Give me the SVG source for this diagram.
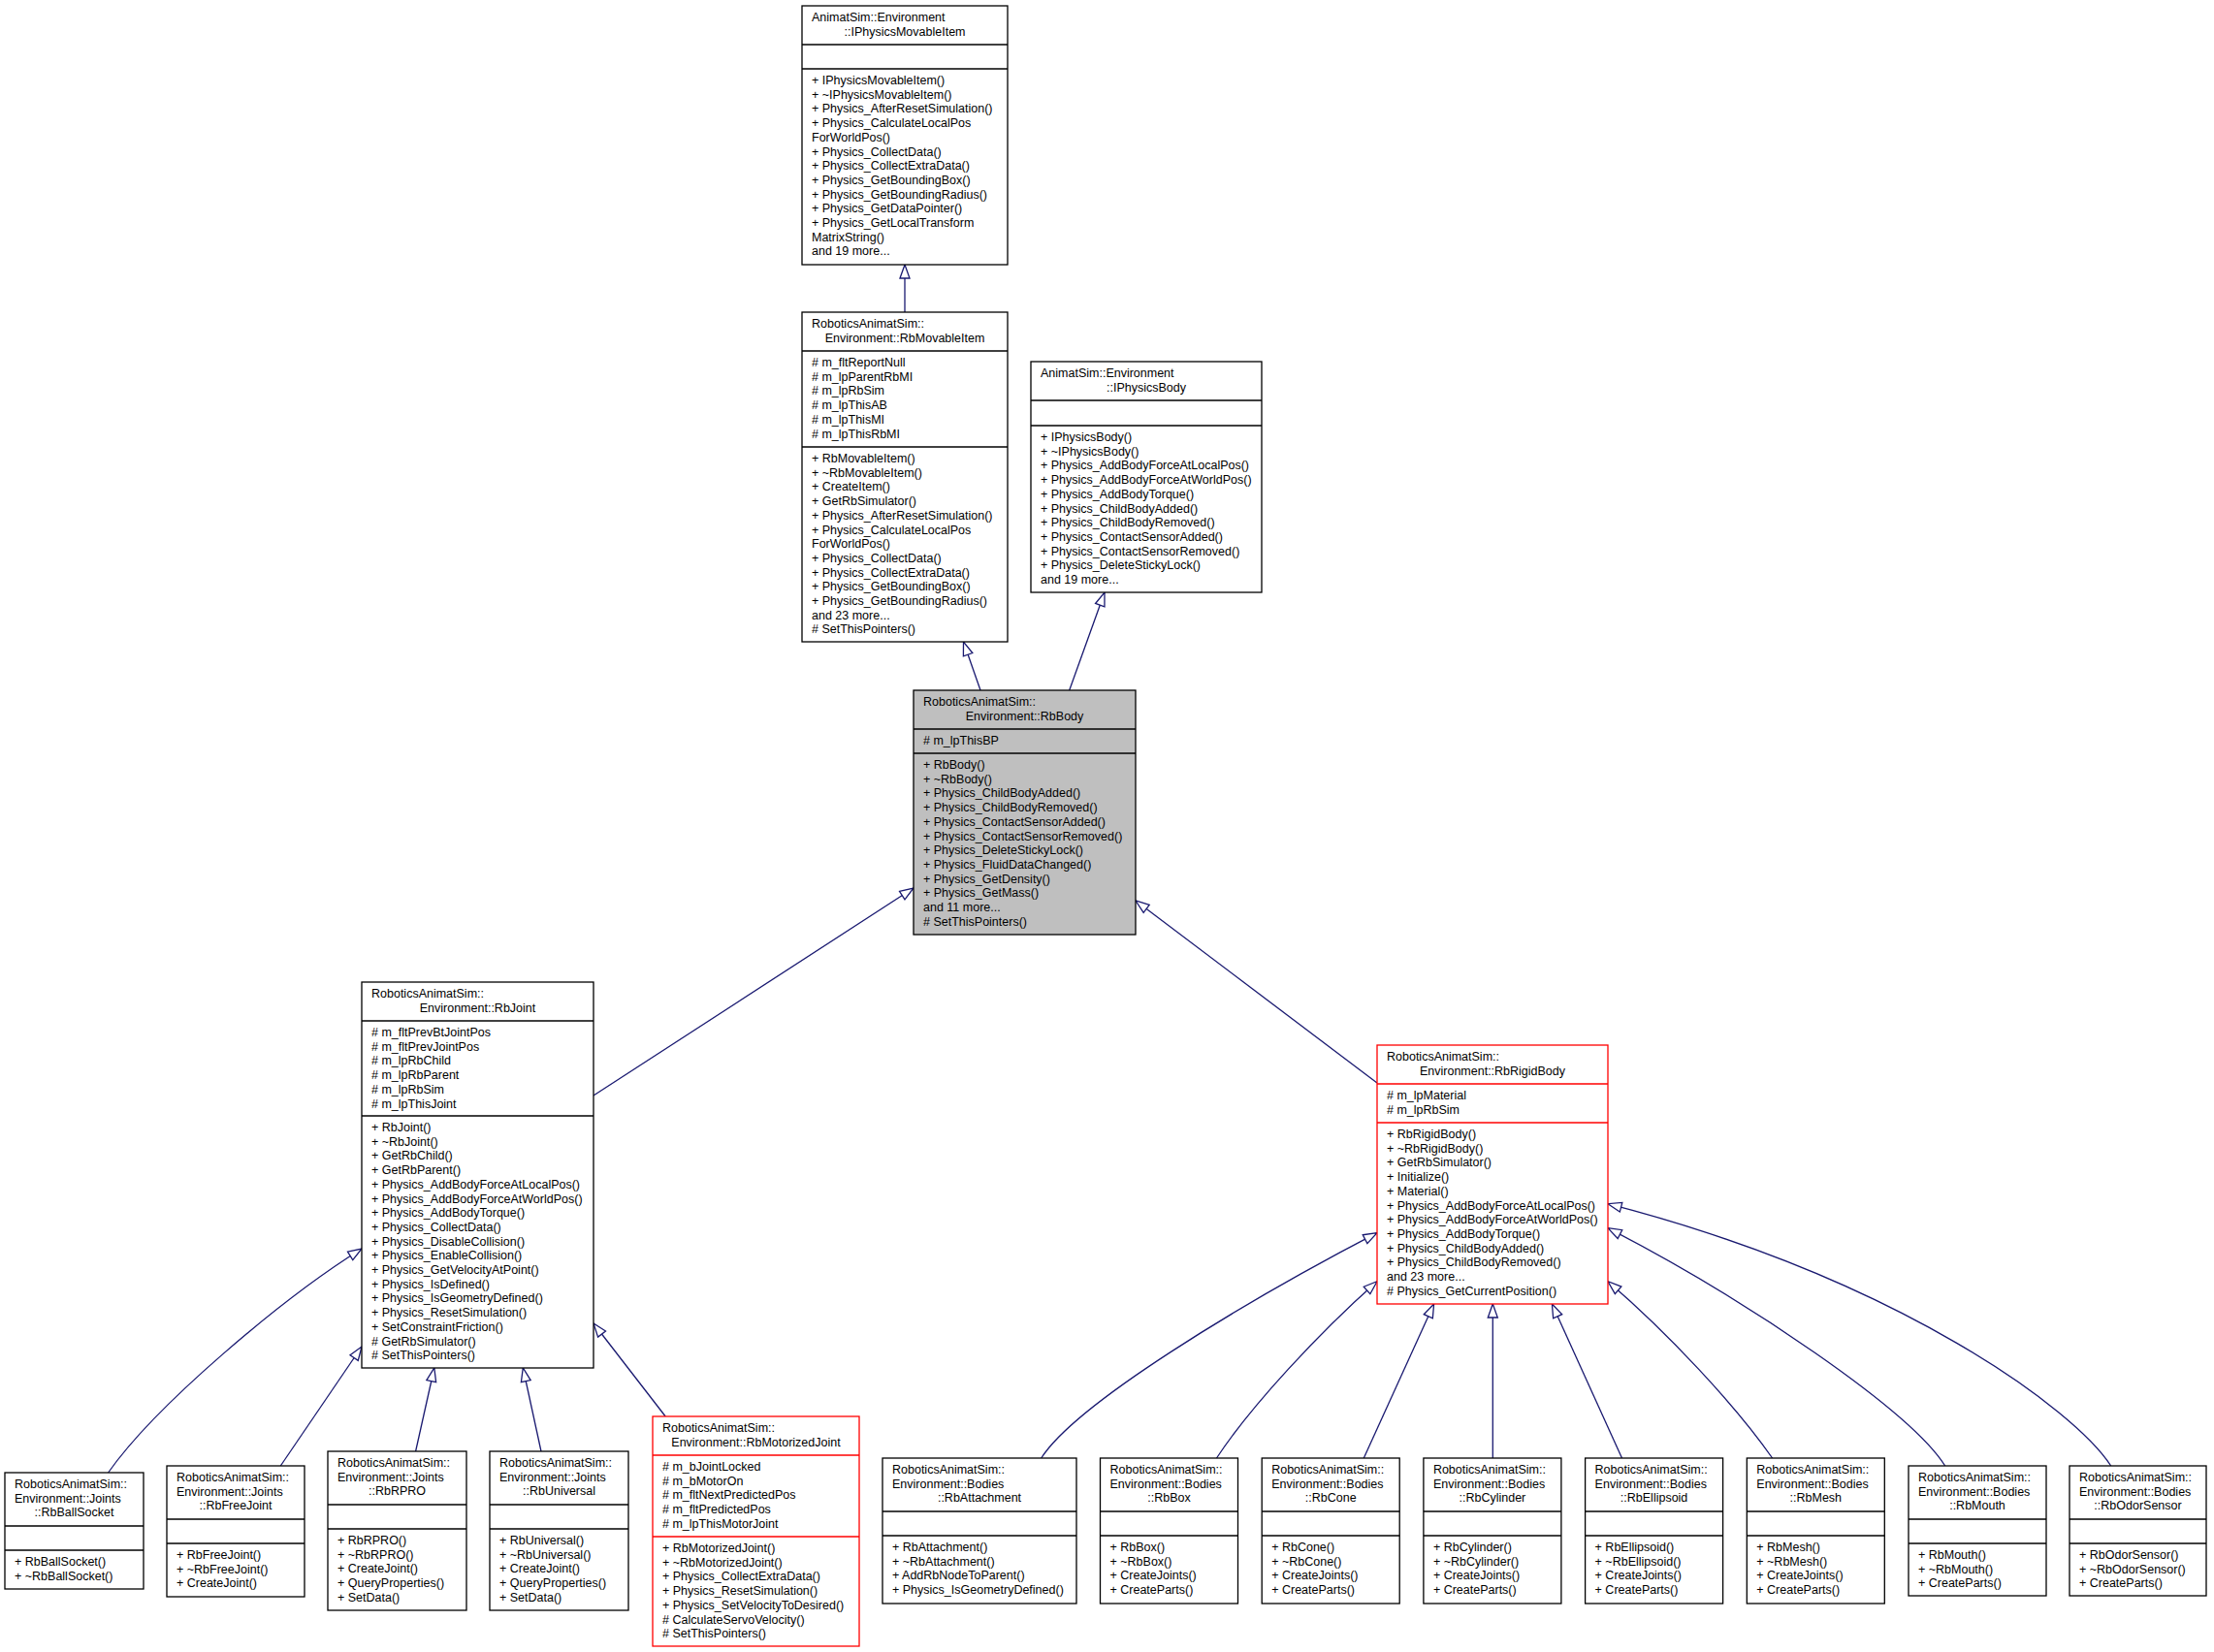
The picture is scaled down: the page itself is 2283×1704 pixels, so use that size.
<svg xmlns="http://www.w3.org/2000/svg" width="2283" height="1704" viewBox="0 0 2283 1704">
<style>
.box{fill:#fff;stroke:#000;stroke-width:1.3}
.red{stroke:#f00}
.cur{fill:#bfbfbf}
.sep{stroke:#000;stroke-width:1.3}
.sepr{stroke:#f00;stroke-width:1.3}
text{font-family:"Liberation Sans",Arial,sans-serif;font-size:12.5px;fill:#000}
.m{text-anchor:middle}
.edge{fill:none;stroke:#191970;stroke-width:1.3;marker-end:url(#arr)}
</style>
<defs>
<marker id="arr" markerUnits="userSpaceOnUse" viewBox="0 0 14 10" refX="14" refY="5" markerWidth="14" markerHeight="10" orient="auto" overflow="visible">
<path d="M0,0 L14,5 L0,10 Z" fill="#fff" stroke="#191970" stroke-width="1.3"/>
</marker>
</defs>
<rect width="2283" height="1704" fill="#fff"/>

<g id="connectors">
<path class="edge" d="M933,322 L933,273"/>
<path class="edge" d="M1011,712 L993.5,662"/>
<path class="edge" d="M1102.7,712 L1139,611"/>
<path class="edge" d="M612,1130 L942,916"/>
<path class="edge" d="M1420,1117 L1171,929"/>
<path class="edge" d="M111.6,1519 C160,1450 290,1340 373,1288"/>
<path class="edge" d="M289.3,1512 L373,1389"/>
<path class="edge" d="M428.6,1497 L447.8,1411"/>
<path class="edge" d="M558,1497 L539.3,1411"/>
<path class="edge" d="M686.2,1461 L612,1365"/>
<path class="edge" d="M1073.7,1504 C1109.4,1448 1279.3,1345 1420,1271.7"/>
<path class="edge" d="M1254.5,1504 C1290,1450 1360,1375 1420,1321.7"/>
<path class="edge" d="M1406.3,1504 L1478.6,1345"/>
<path class="edge" d="M1539.3,1504 L1539.3,1345"/>
<path class="edge" d="M1672.5,1504 L1600.4,1345"/>
<path class="edge" d="M1827.6,1504 C1790,1450 1720,1375 1658,1321.7"/>
<path class="edge" d="M2005.7,1512 C1970,1455 1800,1340 1658,1266.7"/>
<path class="edge" d="M2176.7,1512 C2140,1455 1960,1320 1658,1241.7"/>
</g>

<g id="IPhysicsMovableItem">
<rect class="box" x="827" y="6" width="212" height="267"/>
<line class="sep" x1="827" y1="46" x2="1039" y2="46"/>
<line class="sep" x1="827" y1="71" x2="1039" y2="71"/>
<text x="837" y="22">AnimatSim::Environment</text>
<text class="m" x="933" y="36.7">::IPhysicsMovableItem</text>
<text x="837" y="87">+ IPhysicsMovableItem()</text>
<text x="837" y="101.7">+ ~IPhysicsMovableItem()</text>
<text x="837" y="116.4">+ Physics_AfterResetSimulation()</text>
<text x="837" y="131.1">+ Physics_CalculateLocalPos</text>
<text x="837" y="145.8">ForWorldPos()</text>
<text x="837" y="160.5">+ Physics_CollectData()</text>
<text x="837" y="175.2">+ Physics_CollectExtraData()</text>
<text x="837" y="189.9">+ Physics_GetBoundingBox()</text>
<text x="837" y="204.6">+ Physics_GetBoundingRadius()</text>
<text x="837" y="219.3">+ Physics_GetDataPointer()</text>
<text x="837" y="234">+ Physics_GetLocalTransform</text>
<text x="837" y="248.7">MatrixString()</text>
<text x="837" y="263.4">and 19 more...</text>
</g>

<g id="RbMovableItem">
<rect class="box" x="827" y="322" width="212" height="340"/>
<line class="sep" x1="827" y1="362" x2="1039" y2="362"/>
<line class="sep" x1="827" y1="461" x2="1039" y2="461"/>
<text x="837" y="338">RoboticsAnimatSim::</text>
<text class="m" x="933" y="352.7">Environment::RbMovableItem</text>
<text x="837" y="378"># m_fltReportNull</text>
<text x="837" y="392.7"># m_lpParentRbMI</text>
<text x="837" y="407.4"># m_lpRbSim</text>
<text x="837" y="422.1"># m_lpThisAB</text>
<text x="837" y="436.8"># m_lpThisMI</text>
<text x="837" y="451.5"># m_lpThisRbMI</text>
<text x="837" y="477">+ RbMovableItem()</text>
<text x="837" y="491.7">+ ~RbMovableItem()</text>
<text x="837" y="506.4">+ CreateItem()</text>
<text x="837" y="521.1">+ GetRbSimulator()</text>
<text x="837" y="535.8">+ Physics_AfterResetSimulation()</text>
<text x="837" y="550.5">+ Physics_CalculateLocalPos</text>
<text x="837" y="565.2">ForWorldPos()</text>
<text x="837" y="579.9">+ Physics_CollectData()</text>
<text x="837" y="594.6">+ Physics_CollectExtraData()</text>
<text x="837" y="609.3">+ Physics_GetBoundingBox()</text>
<text x="837" y="624">+ Physics_GetBoundingRadius()</text>
<text x="837" y="638.7">and 23 more...</text>
<text x="837" y="653.4"># SetThisPointers()</text>
</g>

<g id="IPhysicsBody">
<rect class="box" x="1063" y="373" width="238" height="238"/>
<line class="sep" x1="1063" y1="413" x2="1301" y2="413"/>
<line class="sep" x1="1063" y1="439" x2="1301" y2="439"/>
<text x="1073" y="389">AnimatSim::Environment</text>
<text class="m" x="1182" y="403.7">::IPhysicsBody</text>
<text x="1073" y="455">+ IPhysicsBody()</text>
<text x="1073" y="469.7">+ ~IPhysicsBody()</text>
<text x="1073" y="484.4">+ Physics_AddBodyForceAtLocalPos()</text>
<text x="1073" y="499.1">+ Physics_AddBodyForceAtWorldPos()</text>
<text x="1073" y="513.8">+ Physics_AddBodyTorque()</text>
<text x="1073" y="528.5">+ Physics_ChildBodyAdded()</text>
<text x="1073" y="543.2">+ Physics_ChildBodyRemoved()</text>
<text x="1073" y="557.9">+ Physics_ContactSensorAdded()</text>
<text x="1073" y="572.6">+ Physics_ContactSensorRemoved()</text>
<text x="1073" y="587.3">+ Physics_DeleteStickyLock()</text>
<text x="1073" y="602">and 19 more...</text>
</g>

<g id="RbBody">
<rect class="box cur" x="942" y="712" width="229" height="252"/>
<line class="sep" x1="942" y1="752" x2="1171" y2="752"/>
<line class="sep" x1="942" y1="777" x2="1171" y2="777"/>
<text x="952" y="728">RoboticsAnimatSim::</text>
<text class="m" x="1056.5" y="742.7">Environment::RbBody</text>
<text x="952" y="768"># m_lpThisBP</text>
<text x="952" y="793">+ RbBody()</text>
<text x="952" y="807.7">+ ~RbBody()</text>
<text x="952" y="822.4">+ Physics_ChildBodyAdded()</text>
<text x="952" y="837.1">+ Physics_ChildBodyRemoved()</text>
<text x="952" y="851.8">+ Physics_ContactSensorAdded()</text>
<text x="952" y="866.5">+ Physics_ContactSensorRemoved()</text>
<text x="952" y="881.2">+ Physics_DeleteStickyLock()</text>
<text x="952" y="895.9">+ Physics_FluidDataChanged()</text>
<text x="952" y="910.6">+ Physics_GetDensity()</text>
<text x="952" y="925.3">+ Physics_GetMass()</text>
<text x="952" y="940">and 11 more...</text>
<text x="952" y="954.7"># SetThisPointers()</text>
</g>

<g id="RbJoint">
<rect class="box" x="373" y="1013" width="239" height="398"/>
<line class="sep" x1="373" y1="1053" x2="612" y2="1053"/>
<line class="sep" x1="373" y1="1151" x2="612" y2="1151"/>
<text x="383" y="1029">RoboticsAnimatSim::</text>
<text class="m" x="492.5" y="1043.7">Environment::RbJoint</text>
<text x="383" y="1069"># m_fltPrevBtJointPos</text>
<text x="383" y="1083.7"># m_fltPrevJointPos</text>
<text x="383" y="1098.4"># m_lpRbChild</text>
<text x="383" y="1113.1"># m_lpRbParent</text>
<text x="383" y="1127.8"># m_lpRbSim</text>
<text x="383" y="1142.5"># m_lpThisJoint</text>
<text x="383" y="1167">+ RbJoint()</text>
<text x="383" y="1181.7">+ ~RbJoint()</text>
<text x="383" y="1196.4">+ GetRbChild()</text>
<text x="383" y="1211.1">+ GetRbParent()</text>
<text x="383" y="1225.8">+ Physics_AddBodyForceAtLocalPos()</text>
<text x="383" y="1240.5">+ Physics_AddBodyForceAtWorldPos()</text>
<text x="383" y="1255.2">+ Physics_AddBodyTorque()</text>
<text x="383" y="1269.9">+ Physics_CollectData()</text>
<text x="383" y="1284.6">+ Physics_DisableCollision()</text>
<text x="383" y="1299.3">+ Physics_EnableCollision()</text>
<text x="383" y="1314">+ Physics_GetVelocityAtPoint()</text>
<text x="383" y="1328.7">+ Physics_IsDefined()</text>
<text x="383" y="1343.4">+ Physics_IsGeometryDefined()</text>
<text x="383" y="1358.1">+ Physics_ResetSimulation()</text>
<text x="383" y="1372.8">+ SetConstraintFriction()</text>
<text x="383" y="1387.5"># GetRbSimulator()</text>
<text x="383" y="1402.2"># SetThisPointers()</text>
</g>

<g id="RbRigidBody">
<rect class="box red" x="1420" y="1078" width="238" height="267"/>
<line class="sepr" x1="1420" y1="1118" x2="1658" y2="1118"/>
<line class="sepr" x1="1420" y1="1158" x2="1658" y2="1158"/>
<text x="1430" y="1094">RoboticsAnimatSim::</text>
<text class="m" x="1539" y="1108.7">Environment::RbRigidBody</text>
<text x="1430" y="1134"># m_lpMaterial</text>
<text x="1430" y="1148.7"># m_lpRbSim</text>
<text x="1430" y="1174">+ RbRigidBody()</text>
<text x="1430" y="1188.7">+ ~RbRigidBody()</text>
<text x="1430" y="1203.4">+ GetRbSimulator()</text>
<text x="1430" y="1218.1">+ Initialize()</text>
<text x="1430" y="1232.8">+ Material()</text>
<text x="1430" y="1247.5">+ Physics_AddBodyForceAtLocalPos()</text>
<text x="1430" y="1262.2">+ Physics_AddBodyForceAtWorldPos()</text>
<text x="1430" y="1276.9">+ Physics_AddBodyTorque()</text>
<text x="1430" y="1291.6">+ Physics_ChildBodyAdded()</text>
<text x="1430" y="1306.3">+ Physics_ChildBodyRemoved()</text>
<text x="1430" y="1321">and 23 more...</text>
<text x="1430" y="1335.7"># Physics_GetCurrentPosition()</text>
</g>

<g id="RbBallSocket">
<rect class="box" x="5" y="1519" width="143" height="120"/>
<line class="sep" x1="5" y1="1574" x2="148" y2="1574"/>
<line class="sep" x1="5" y1="1599" x2="148" y2="1599"/>
<text x="15" y="1535">RoboticsAnimatSim::</text>
<text x="15" y="1549.7">Environment::Joints</text>
<text class="m" x="76.5" y="1564.4">::RbBallSocket</text>
<text x="15" y="1615">+ RbBallSocket()</text>
<text x="15" y="1629.7">+ ~RbBallSocket()</text>
</g>

<g id="RbFreeJoint">
<rect class="box" x="172" y="1512" width="142" height="135"/>
<line class="sep" x1="172" y1="1567" x2="314" y2="1567"/>
<line class="sep" x1="172" y1="1592" x2="314" y2="1592"/>
<text x="182" y="1528">RoboticsAnimatSim::</text>
<text x="182" y="1542.7">Environment::Joints</text>
<text class="m" x="243" y="1557.4">::RbFreeJoint</text>
<text x="182" y="1608">+ RbFreeJoint()</text>
<text x="182" y="1622.7">+ ~RbFreeJoint()</text>
<text x="182" y="1637.4">+ CreateJoint()</text>
</g>

<g id="RbRPRO">
<rect class="box" x="338" y="1497" width="143" height="164"/>
<line class="sep" x1="338" y1="1552" x2="481" y2="1552"/>
<line class="sep" x1="338" y1="1577" x2="481" y2="1577"/>
<text x="348" y="1513">RoboticsAnimatSim::</text>
<text x="348" y="1527.7">Environment::Joints</text>
<text class="m" x="409.5" y="1542.4">::RbRPRO</text>
<text x="348" y="1593">+ RbRPRO()</text>
<text x="348" y="1607.7">+ ~RbRPRO()</text>
<text x="348" y="1622.4">+ CreateJoint()</text>
<text x="348" y="1637.1">+ QueryProperties()</text>
<text x="348" y="1651.8">+ SetData()</text>
</g>

<g id="RbUniversal">
<rect class="box" x="505" y="1497" width="143" height="164"/>
<line class="sep" x1="505" y1="1552" x2="648" y2="1552"/>
<line class="sep" x1="505" y1="1577" x2="648" y2="1577"/>
<text x="515" y="1513">RoboticsAnimatSim::</text>
<text x="515" y="1527.7">Environment::Joints</text>
<text class="m" x="576.5" y="1542.4">::RbUniversal</text>
<text x="515" y="1593">+ RbUniversal()</text>
<text x="515" y="1607.7">+ ~RbUniversal()</text>
<text x="515" y="1622.4">+ CreateJoint()</text>
<text x="515" y="1637.1">+ QueryProperties()</text>
<text x="515" y="1651.8">+ SetData()</text>
</g>

<g id="RbMotorizedJoint">
<rect class="box red" x="673" y="1461" width="213" height="237"/>
<line class="sepr" x1="673" y1="1501" x2="886" y2="1501"/>
<line class="sepr" x1="673" y1="1585" x2="886" y2="1585"/>
<text x="683" y="1477">RoboticsAnimatSim::</text>
<text class="m" x="779.5" y="1491.7">Environment::RbMotorizedJoint</text>
<text x="683" y="1517"># m_bJointLocked</text>
<text x="683" y="1531.7"># m_bMotorOn</text>
<text x="683" y="1546.4"># m_fltNextPredictedPos</text>
<text x="683" y="1561.1"># m_fltPredictedPos</text>
<text x="683" y="1575.8"># m_lpThisMotorJoint</text>
<text x="683" y="1601">+ RbMotorizedJoint()</text>
<text x="683" y="1615.7">+ ~RbMotorizedJoint()</text>
<text x="683" y="1630.4">+ Physics_CollectExtraData()</text>
<text x="683" y="1645.1">+ Physics_ResetSimulation()</text>
<text x="683" y="1659.8">+ Physics_SetVelocityToDesired()</text>
<text x="683" y="1674.5"># CalculateServoVelocity()</text>
<text x="683" y="1689.2"># SetThisPointers()</text>
</g>

<g id="RbAttachment">
<rect class="box" x="910" y="1504" width="200" height="150"/>
<line class="sep" x1="910" y1="1559" x2="1110" y2="1559"/>
<line class="sep" x1="910" y1="1584" x2="1110" y2="1584"/>
<text x="920" y="1520">RoboticsAnimatSim::</text>
<text x="920" y="1534.7">Environment::Bodies</text>
<text class="m" x="1010" y="1549.4">::RbAttachment</text>
<text x="920" y="1600">+ RbAttachment()</text>
<text x="920" y="1614.7">+ ~RbAttachment()</text>
<text x="920" y="1629.4">+ AddRbNodeToParent()</text>
<text x="920" y="1644.1">+ Physics_IsGeometryDefined()</text>
</g>

<g id="RbBox">
<rect class="box" x="1134.5" y="1504" width="142" height="150"/>
<line class="sep" x1="1134.5" y1="1559" x2="1276.5" y2="1559"/>
<line class="sep" x1="1134.5" y1="1584" x2="1276.5" y2="1584"/>
<text x="1144.5" y="1520">RoboticsAnimatSim::</text>
<text x="1144.5" y="1534.7">Environment::Bodies</text>
<text class="m" x="1205.5" y="1549.4">::RbBox</text>
<text x="1144.5" y="1600">+ RbBox()</text>
<text x="1144.5" y="1614.7">+ ~RbBox()</text>
<text x="1144.5" y="1629.4">+ CreateJoints()</text>
<text x="1144.5" y="1644.1">+ CreateParts()</text>
</g>

<g id="RbCone">
<rect class="box" x="1301.2" y="1504" width="142" height="150"/>
<line class="sep" x1="1301.2" y1="1559" x2="1443.2" y2="1559"/>
<line class="sep" x1="1301.2" y1="1584" x2="1443.2" y2="1584"/>
<text x="1311.2" y="1520">RoboticsAnimatSim::</text>
<text x="1311.2" y="1534.7">Environment::Bodies</text>
<text class="m" x="1372.2" y="1549.4">::RbCone</text>
<text x="1311.2" y="1600">+ RbCone()</text>
<text x="1311.2" y="1614.7">+ ~RbCone()</text>
<text x="1311.2" y="1629.4">+ CreateJoints()</text>
<text x="1311.2" y="1644.1">+ CreateParts()</text>
</g>

<g id="RbCylinder">
<rect class="box" x="1467.9" y="1504" width="142" height="150"/>
<line class="sep" x1="1467.9" y1="1559" x2="1609.9" y2="1559"/>
<line class="sep" x1="1467.9" y1="1584" x2="1609.9" y2="1584"/>
<text x="1477.9" y="1520">RoboticsAnimatSim::</text>
<text x="1477.9" y="1534.7">Environment::Bodies</text>
<text class="m" x="1538.9" y="1549.4">::RbCylinder</text>
<text x="1477.9" y="1600">+ RbCylinder()</text>
<text x="1477.9" y="1614.7">+ ~RbCylinder()</text>
<text x="1477.9" y="1629.4">+ CreateJoints()</text>
<text x="1477.9" y="1644.1">+ CreateParts()</text>
</g>

<g id="RbEllipsoid">
<rect class="box" x="1634.6" y="1504" width="142" height="150"/>
<line class="sep" x1="1634.6" y1="1559" x2="1776.6" y2="1559"/>
<line class="sep" x1="1634.6" y1="1584" x2="1776.6" y2="1584"/>
<text x="1644.6" y="1520">RoboticsAnimatSim::</text>
<text x="1644.6" y="1534.7">Environment::Bodies</text>
<text class="m" x="1705.6" y="1549.4">::RbEllipsoid</text>
<text x="1644.6" y="1600">+ RbEllipsoid()</text>
<text x="1644.6" y="1614.7">+ ~RbEllipsoid()</text>
<text x="1644.6" y="1629.4">+ CreateJoints()</text>
<text x="1644.6" y="1644.1">+ CreateParts()</text>
</g>

<g id="RbMesh">
<rect class="box" x="1801.3" y="1504" width="142" height="150"/>
<line class="sep" x1="1801.3" y1="1559" x2="1943.3" y2="1559"/>
<line class="sep" x1="1801.3" y1="1584" x2="1943.3" y2="1584"/>
<text x="1811.3" y="1520">RoboticsAnimatSim::</text>
<text x="1811.3" y="1534.7">Environment::Bodies</text>
<text class="m" x="1872.3" y="1549.4">::RbMesh</text>
<text x="1811.3" y="1600">+ RbMesh()</text>
<text x="1811.3" y="1614.7">+ ~RbMesh()</text>
<text x="1811.3" y="1629.4">+ CreateJoints()</text>
<text x="1811.3" y="1644.1">+ CreateParts()</text>
</g>

<g id="RbMouth">
<rect class="box" x="1968" y="1512" width="142" height="134"/>
<line class="sep" x1="1968" y1="1567" x2="2110" y2="1567"/>
<line class="sep" x1="1968" y1="1592" x2="2110" y2="1592"/>
<text x="1978" y="1528">RoboticsAnimatSim::</text>
<text x="1978" y="1542.7">Environment::Bodies</text>
<text class="m" x="2039" y="1557.4">::RbMouth</text>
<text x="1978" y="1608">+ RbMouth()</text>
<text x="1978" y="1622.7">+ ~RbMouth()</text>
<text x="1978" y="1637.4">+ CreateParts()</text>
</g>

<g id="RbOdorSensor">
<rect class="box" x="2134" y="1512" width="141" height="134"/>
<line class="sep" x1="2134" y1="1567" x2="2275" y2="1567"/>
<line class="sep" x1="2134" y1="1592" x2="2275" y2="1592"/>
<text x="2144" y="1528">RoboticsAnimatSim::</text>
<text x="2144" y="1542.7">Environment::Bodies</text>
<text class="m" x="2204.5" y="1557.4">::RbOdorSensor</text>
<text x="2144" y="1608">+ RbOdorSensor()</text>
<text x="2144" y="1622.7">+ ~RbOdorSensor()</text>
<text x="2144" y="1637.4">+ CreateParts()</text>
</g>
</svg>
